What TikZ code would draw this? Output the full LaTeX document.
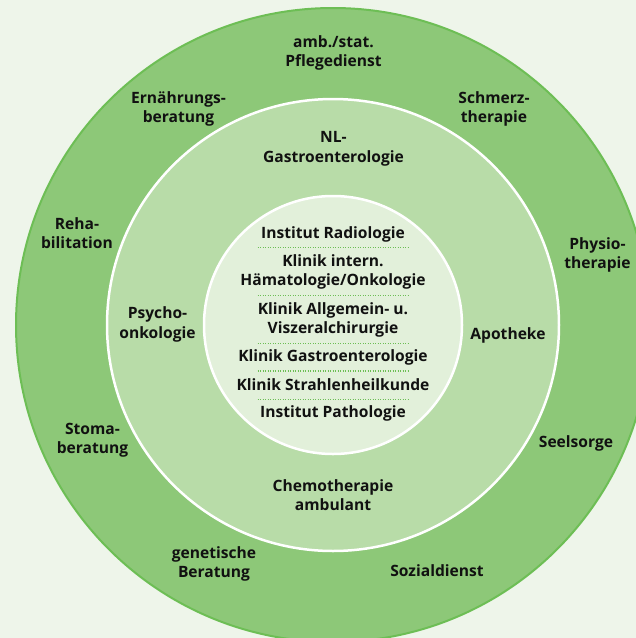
\documentclass[tikz,border=0pt]{standalone}
\usepackage{fontspec}
\setmainfont{Open Sans}
\usetikzlibrary{positioning}

\definecolor{bgc}{HTML}{EEF5EA}
\definecolor{outerc}{HTML}{8DC878}
\definecolor{midc}{HTML}{B8DCA8}
\definecolor{innerc}{HTML}{E2F0DA}
\definecolor{rimc}{HTML}{6DBE55}
\definecolor{txtc}{HTML}{111111}

\begin{document}
\begin{tikzpicture}[
  x=1pt, y=-1pt,
  font=\bfseries\fontsize{15.6}{19.5}\selectfont,
  lbl/.style={align=center, inner sep=0pt, text=txtc},
  sep/.style={draw=rimc, line width=1.4pt, dash pattern=on 1.3pt off 1.2pt}
]
\useasboundingbox (0,0) rectangle (636,638);
\fill[bgc] (0,0) rectangle (636,638);
\clip (0,0) rectangle (636,638);
\coordinate (c) at (333,325);

% rings
\draw[fill=outerc, draw=rimc, line width=2pt] (c) circle[radius=317];
\draw[fill=midc, draw=white, line width=2.5pt] (c) circle[radius=226];
\draw[fill=innerc, draw=white, line width=2.5pt] (c) circle[radius=129];

% outer ring
\node[lbl] (pfl) at (333.5,53) {amb./stat.\\Pflegedienst};
\node[lbl] (ern) at (178.5,109) {Ernährungs-\\beratung};
\node[lbl] (sch) at (494,109) {Schmerz-\\therapie};
\node[lbl] (reh) at (77,233) {Reha-\\bilitation};
\node[lbl] (phy) at (597.5,255) {Physio-\\therapie};
\node[lbl] (sto) at (92.5,440) {Stoma-\\beratung};
\node[lbl] (see) at (576,443) {Seelsorge};
\node[lbl] (gen) at (214,564) {genetische\\Beratung};
\node[lbl] (soz) at (437,571) {Sozialdienst};

% middle ring
\node[lbl] (nlg) at (333.5,149) {NL-\\Gastroenterologie};
\node[lbl] (psy) at (157.5,324.5) {Psycho-\\onkologie};
\node[lbl] (apo) at (508,335) {Apotheke};
\node[lbl] (che) at (333,495) {Chemotherapie\\ambulant};

% inner circle
\node[lbl] (rad) at (333,234.5) {Institut Radiologie};
\node[lbl] (hae) at (333,272) {Klinik intern.\\Hämatologie/Onkologie};
\node[lbl] (vis) at (333,319.7) {Klinik Allgemein- u.\\Viszeralchirurgie};
\node[lbl] (gas) at (333,357) {Klinik Gastroenterologie};
\node[lbl] (str) at (333,384.6) {Klinik Strahlenheilkunde};
\node[lbl] (pat) at (333,413) {Institut Pathologie};
\foreach \y in {247.5,295.3,343.6,371,399.6}
  \draw[sep] (257.5,\y) -- (409,\y);
\end{tikzpicture}
\end{document}
